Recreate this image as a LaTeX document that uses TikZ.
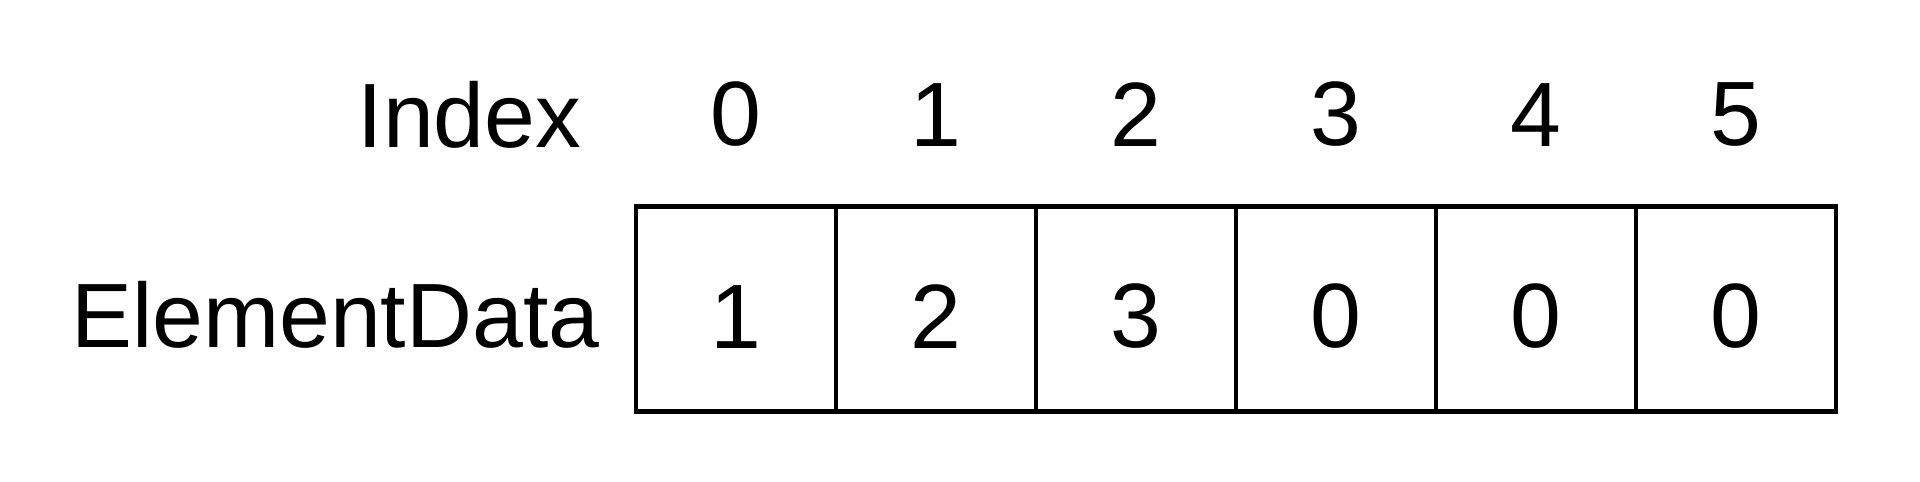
\documentclass[tikz,border=0pt]{standalone}
\usepackage{fontspec}
\setmainfont{Liberation Sans}
\usetikzlibrary{positioning}

\begin{document}
\begin{tikzpicture}[font=\fontsize{26}{30}\selectfont,
		cell/.style={rectangle, draw, line width=1.4pt, minimum width=2cm, minimum height=2.05cm, text height=0.78cm, inner sep=0pt, outer sep=0pt},
		idx/.style={inner sep=0pt}]
		\useasboundingbox (0,0) rectangle (19.2,4.81);

		\node[cell] (c0) at (7.36,1.72) {1};
		\node[cell, right=0pt of c0] (c1) {2};
		\node[cell, right=0pt of c1] (c2) {3};
		\node[cell, right=0pt of c2] (c3) {0};
		\node[cell, right=0pt of c3] (c4) {0};
		\node[cell, right=0pt of c4] (c5) {0};

		\node[idx, above=0.59cm of c0] (i0) {0};
		\node[idx, above=0.59cm of c1] (i1) {1};
		\node[idx, above=0.59cm of c2] (i2) {2};
		\node[idx, above=0.59cm of c3] (i3) {3};
		\node[idx, above=0.59cm of c4] (i4) {4};
		\node[idx, above=0.59cm of c5] (i5) {5};

		\node[idx, left=1.28cm of i0] (index_label) {Index};
		\node[idx, text height=0.78cm, left=0.36cm of c0] (data_label) {ElementData};
	\end{tikzpicture}
\end{document}
